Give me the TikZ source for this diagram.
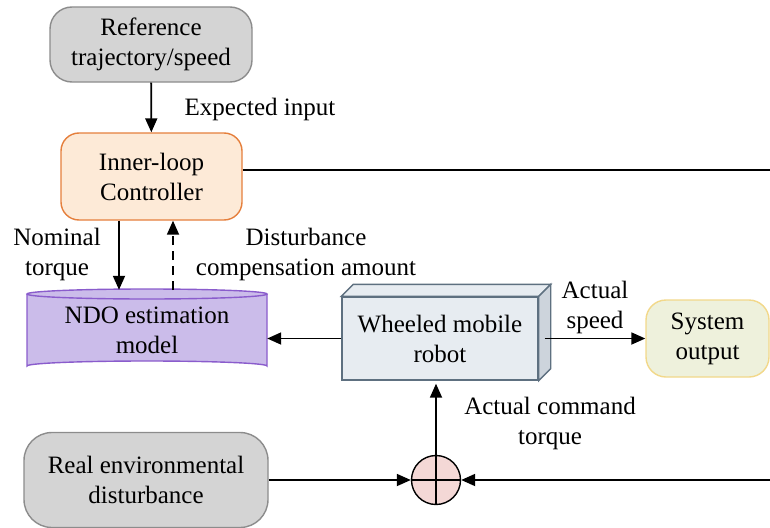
\documentclass[tikz,border=0pt]{standalone}
\usepackage{fontspec}
\setmainfont{Liberation Serif}
\usetikzlibrary{arrows.meta}
\definecolor{refgray}{HTML}{D4D4D4}
\definecolor{refgrayd}{HTML}{8C8C8C}
\definecolor{ctrlfill}{HTML}{FDEAD7}
\definecolor{ctrlline}{HTML}{E57F3C}
\definecolor{ndofill}{HTML}{CBBCEA}
\definecolor{ndoline}{HTML}{8A5CCC}
\definecolor{robfill}{HTML}{E7ECF1}
\definecolor{robside}{HTML}{CDD4DC}
\definecolor{robline}{HTML}{5E7080}
\definecolor{outfill}{HTML}{EEF1DC}
\definecolor{outline}{HTML}{F2D88A}
\definecolor{sumfill}{HTML}{F4D8D6}
\tikzset{
  txt/.style={font=\rmfamily\fontsize{25}{30}\selectfont, align=center, inner sep=0pt},
  rbox/.style={txt, rounded corners=22pt, line width=1.4pt},
  conn/.style={line width=1.8pt, -{Triangle[length=14pt,width=12pt]}},
  plain/.style={line width=1.8pt},
}
\begin{document}
\begin{tikzpicture}[x=1pt,y=-1pt]
\useasboundingbox (0,0) rectangle (770,527);
% Reference
\node[rbox, draw=refgrayd, fill=refgray, minimum width=202pt, minimum height=75pt] (ref) at (151,44.5) {Reference\\trajectory/speed};
% Controller
\node[rbox, rounded corners=18pt, draw=ctrlline, fill=ctrlfill, minimum width=181pt, minimum height=87pt] (ctrl) at (151.5,176.5) {Inner-loop\\Controller};
% NDO cylinder
\fill[ndofill] (27,294) -- (27,366) arc[start angle=180,end angle=360,x radius=120,y radius=5] -- (267,294) -- cycle;
\draw[ndoline, line width=1.4pt, fill=ndofill] (147,294) ellipse[x radius=120, y radius=5];
\draw[ndoline, line width=1.4pt] (27,294) -- (27,366) arc[start angle=180,end angle=360,x radius=120,y radius=5] -- (267,294);
\node[txt, minimum width=240pt, minimum height=80pt] (ndo) at (147,330) {NDO estimation\\model};
% Robot box 3D
\node[txt, draw=robline, fill=robfill, line width=1.4pt, minimum width=196pt, minimum height=83pt] (rob) at (440,338.5) {Wheeled mobile\\robot};
\draw[robline, line width=1.4pt, fill=robfill] (rob.north west) -- ++(12,-12) -- ([shift={(12,-12)}]rob.north east) -- (rob.north east) -- cycle;
\draw[robline, line width=1.4pt, fill=robside] (rob.north east) -- ++(12,-12) -- ([shift={(12,-12)}]rob.south east) -- (rob.south east) -- cycle;
% System output
\node[rbox, rounded corners=20pt, draw=outline, fill=outfill, minimum width=123pt, minimum height=77pt] (out) at (707.5,338.5) {System\\output};
% Sum
\node[circle, draw=black, fill=sumfill, line width=1.4pt, minimum size=49pt, inner sep=0pt] (sum) at (436,480) {};
\draw[line width=1.4pt] (sum.north) -- (sum.south) (sum.west) -- (sum.east);
% Real env disturbance
\node[rbox, draw=refgrayd, fill=refgray, minimum width=244pt, minimum height=95pt, rounded corners=28pt] (env) at (146,480) {Real environmental\\disturbance};
% coordinates at edge
\coordinate (rtop) at (770,170);
\coordinate (rbot) at (770,480);
% connectors
\draw[conn] (ref) -- (ctrl);
\draw[plain] (ctrl.east |- rtop) -- (rtop);
\draw[conn] (ctrl.south -| 119,0) -- (ndo.north -| 119,0);
\draw[conn, dash pattern=on 9pt off 6pt] (173,290) -- (ctrl.south -| 173,0);
\draw[conn] (rob.west) -- (rob.west -| ndo.east);
\draw[conn] ([xshift=6pt]rob.east) -- (out.west);
\draw[conn] (sum.north) -- ([yshift=-3pt]sum.north |- rob.south);
\draw[conn] (env.east) -- (sum.west);
\draw[conn] (rbot) -- (sum.east);
% labels
\node[txt] (lexp) at (260,109) {Expected input};
\node[txt] (lnom) at (57,254) {Nominal\\torque};
\node[txt] (ldist) at (306,254) {Disturbance\\compensation amount};
\node[txt] (lspd) at (595,307) {Actual\\speed};
\node[txt] (lcmd) at (550,423) {Actual command\\torque};
\end{tikzpicture}
\end{document}
